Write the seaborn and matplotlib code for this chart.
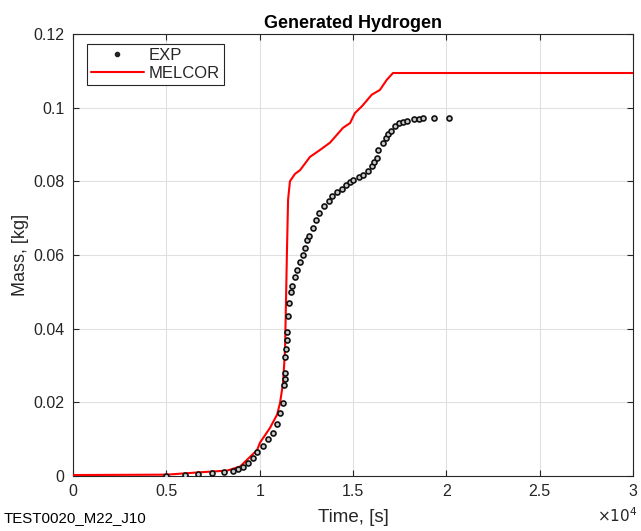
import numpy as np
import pandas as pd
import matplotlib
matplotlib.use('Agg')
import matplotlib.pyplot as plt
from matplotlib.lines import Line2D
import seaborn as sns

# --- data ---
exp_time = [5000, 6000, 6700, 7450, 8100, 8570, 8840, 9100, 9370, 9640, 9860,
            10180, 10440, 10710, 10930, 11090, 11250, 11300, 11330, 11350, 11380,
            11410, 11440, 11460, 11516, 11570, 11680, 11750, 11890, 12000, 12160,
            12320, 12430, 12530, 12640, 12850, 13020, 13180, 13440, 13710, 13870,
            14140, 14410, 14620, 14840, 15000, 15320, 15530, 15800, 16020, 16120,
            16280, 16340, 16600, 16770, 16870, 17030, 17250, 17460, 17680, 17890,
            18260, 18530, 18750, 19340, 20140]
exp_mass = [0.0, 0.0003, 0.0005, 0.0008, 0.001, 0.0014, 0.0019, 0.0023, 0.0035, 0.0049,
            0.0065, 0.0081, 0.0100, 0.0117, 0.0141, 0.0171, 0.0198, 0.0247, 0.0263,
            0.0280, 0.0323, 0.0345, 0.0370, 0.0390, 0.0434, 0.0470, 0.0500, 0.0516,
            0.0540, 0.0560, 0.0580, 0.0600, 0.0620, 0.0640, 0.0650, 0.0673, 0.0695,
            0.0714, 0.0733, 0.0747, 0.0760, 0.0770, 0.0780, 0.0790, 0.0798, 0.0804,
            0.0812, 0.0817, 0.0828, 0.0842, 0.0853, 0.0863, 0.0885, 0.0904, 0.0918,
            0.0929, 0.0937, 0.0950, 0.0958, 0.0961, 0.0964, 0.0969, 0.0970, 0.0972,
            0.0972, 0.0972]

melcor_time = [0, 5000, 6660, 8250, 8945, 9860, 10016, 10550, 10930, 11090, 11250,
               11355, 11410, 11460, 11520, 11620, 11890, 12160, 12690, 13230, 13770,
               14460, 14840, 15100, 15500, 16000, 16440, 16800, 17140, 30000]
melcor_mass = [0.0002, 0.0003, 0.0009, 0.0014, 0.0025, 0.007, 0.009, 0.013, 0.0166,
               0.0198, 0.0252, 0.034, 0.0478, 0.061, 0.075, 0.080, 0.082, 0.083,
               0.0866, 0.0885, 0.0905, 0.0945, 0.0958, 0.0985, 0.1005, 0.1035,
               0.1048, 0.1075, 0.1094, 0.1094]

xticks = [0, 5000, 10000, 15000, 20000, 25000, 30000]
xtick_labels = ['0', '0.5', '1', '1.5', '2', '2.5', '3']
yticks = [0, 0.02, 0.04, 0.06, 0.08, 0.10, 0.12]
ytick_labels = ['0', '0.02', '0.04', '0.06', '0.08', '0.1', '0.12']

df_exp = pd.DataFrame({'time': exp_time, 'mass': exp_mass})
df_mel = pd.DataFrame({'time': melcor_time, 'mass': melcor_mass})

# --- style ---
sns.set_theme(style='whitegrid')
plt.rcParams['font.family'] = ['Liberation Sans', 'DejaVu Sans']

fig = plt.figure(figsize=(6.41, 5.31), dpi=100)
ax = fig.add_axes([0.114, 0.104, 0.8735, 0.832])

sns.lineplot(data=df_mel, x='time', y='mass', ax=ax, color='#ff0000', lw=1.5,
             zorder=3, estimator=None, sort=False, legend=False)
sns.scatterplot(data=df_exp, x='time', y='mass', ax=ax, marker='o', s=13,
                facecolor='#c8c8c8', edgecolor='#111111', linewidth=1.2,
                zorder=4, legend=False)

ax.set_xlim(0, 30000)
ax.set_ylim(0, 0.12)
ax.set_xticks(xticks)
ax.set_xticklabels(xtick_labels)
ax.set_yticks(yticks)
ax.set_yticklabels(ytick_labels)
ax.tick_params(axis='both', direction='in', length=4, width=0.8, color='#262626',
               labelsize=11.5, labelcolor='#262626', pad=6,
               bottom=True, left=True, top=True, right=True)
for s in ax.spines.values():
    s.set_edgecolor('#262626')
    s.set_linewidth(0.8)
ax.grid(True, color='#e0e0e0', lw=0.8)
ax.set_facecolor('white')

ax.set_title('Generated Hydrogen', fontsize=13, fontweight='bold', color='black', pad=4)
ax.set_xlabel('Time, [s]', fontsize=13.5, color='#262626', labelpad=7)
ax.set_ylabel('Mass, [kg]', fontsize=13, color='#262626', labelpad=3)

handles = [Line2D([], [], ls='none', marker='o', ms=3, mfc='#222222', mec='#222222'),
           Line2D([], [], color='#ff0000', lw=1.5)]
leg = ax.legend(handles, ['EXP', 'MELCOR'],
                loc='upper left', bbox_to_anchor=(0.024, 0.977), fontsize=12,
                frameon=True, fancybox=False, edgecolor='#262626', framealpha=1,
                borderpad=0.25, handlelength=3.2, handletextpad=0.3,
                labelspacing=0.15, borderaxespad=0)
leg.get_frame().set_linewidth(0.8)

fig.text(0.995, 0.012, r'$\times10^{4}$', ha='right', va='bottom', fontsize=11, color='#262626')
fig.text(0.005, 0.012, 'TEST0020_M22_J10', ha='left', va='bottom', fontsize=10.8, color='black')

fig.savefig('out.png', dpi=100, facecolor='white')
